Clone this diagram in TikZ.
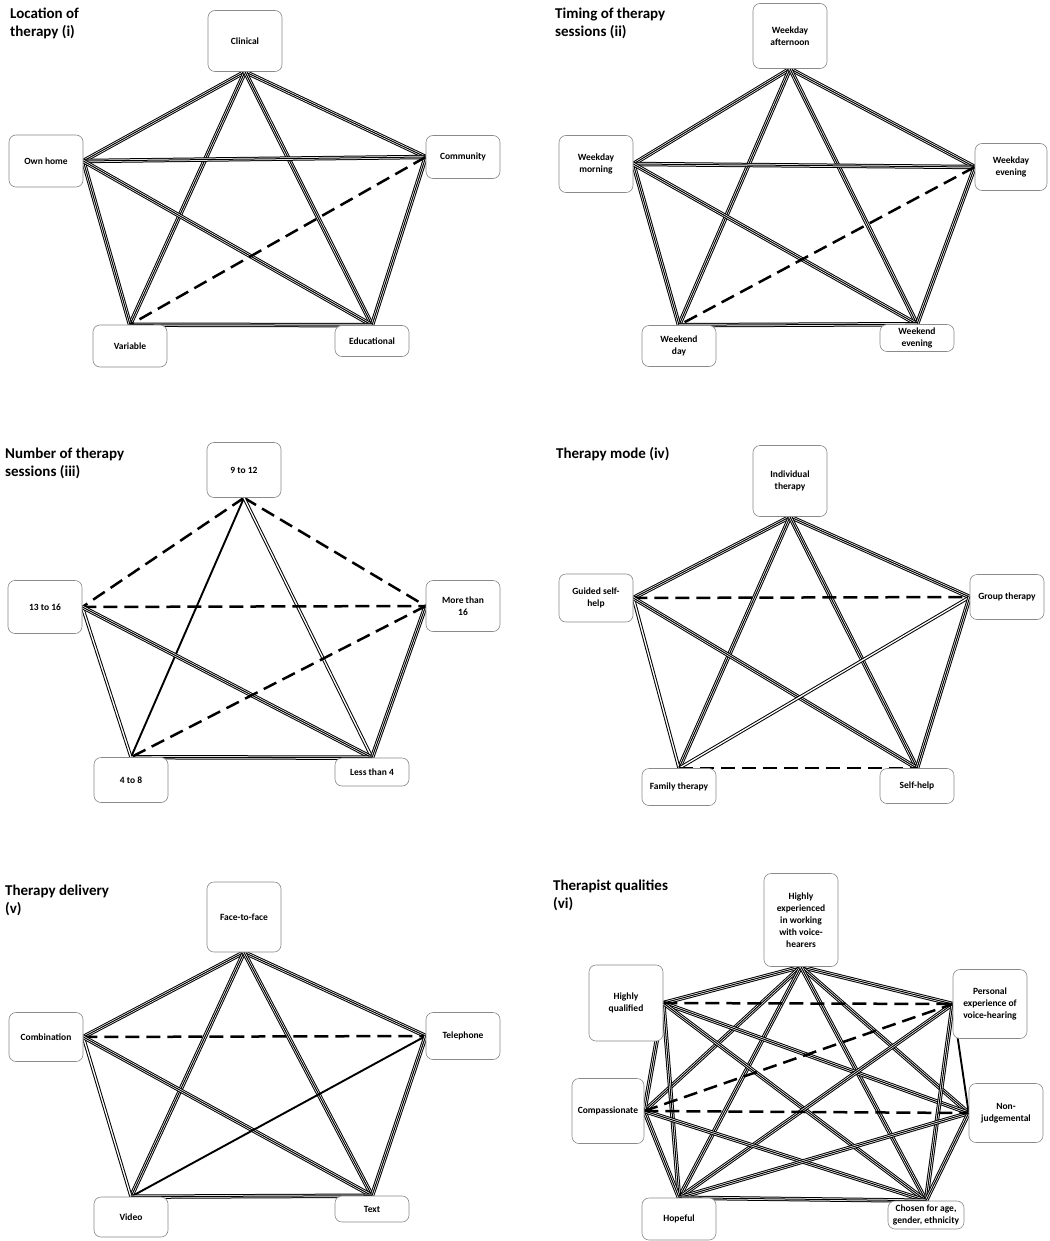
\documentclass[tikz,border=0pt]{standalone}
\usepackage{fontspec}
\setmainfont{Carlito}
\usetikzlibrary{positioning}
\definecolor{cbedge}{HTML}{000000}
\definecolor{cbframe}{HTML}{8A8A8A}
\definecolor{cbpaper}{HTML}{FFFFFF}
\pgfdeclarelayer{edges}
\pgfsetlayers{edges,main}
\tikzset{
  hdr/.style={font=\fontsize{15}{18}\selectfont\bfseries, align=left,
              anchor=north west, inner sep=0pt},
  choice/.style={rectangle, rounded corners=7pt, draw=cbframe, line width=0.6pt,
              fill=cbpaper, font=\fontsize{9.5}{12}\selectfont\bfseries,
              align=center, inner sep=1pt, minimum width=74pt},
  tri/.style={draw=cbedge, line width=4.4pt,
              postaction={draw=cbpaper, line width=2.4pt},
              postaction={draw=cbedge, line width=1pt}},
  dbl/.style={draw=cbedge, line width=1pt, double=cbpaper, double distance=1.3pt},
  sgl/.style={draw=cbedge, line width=1.9pt},
  dsh/.style={draw=cbedge, line width=2.5pt, dash pattern=on 14pt off 7pt},
}
\begin{document}
\begin{tikzpicture}[x=1pt,y=-1pt]
  \useasboundingbox (0,0) rectangle (1049,1241);
  \begin{pgfonlayer}{edges}
    \fill[cbpaper] (0,0) rectangle (1049,1241);
  \end{pgfonlayer}
  % (i) location
  \node[hdr] (ttlloc) at (10,7.5) {Location of\\therapy (i)};
  \node[choice, minimum height=61pt] (clinical)    at (245,41)  {Clinical};
  \node[choice, minimum height=52pt] (ownhome)     at (46,161)  {Own home};
  \node[choice, minimum height=43pt] (community)   at (463,157) {Community};
  \node[choice, minimum height=42pt] (variable)    at (130,346) {Variable};
  \node[choice, minimum height=31pt] (educational) at (372,341) {Educational};
  % (ii) timing
  \node[hdr] (ttltime) at (555,7.5) {Timing of therapy\\sessions (ii)};
  \node[choice, minimum height=65pt] (wdaft)  at (790,36)  {Weekday\\afternoon};
  \node[choice, minimum height=57pt] (wdmorn) at (596,164) {Weekday\\morning};
  \node[choice, minimum height=47pt, minimum width=72pt] (wdeve) at (1011,167) {Weekday\\evening};
  \node[choice, minimum height=41pt] (wkday)  at (679,346) {Weekend\\day};
  \node[choice, minimum height=27pt, inner sep=0pt] (wkeve) at (917,338) {Weekend\\evening};
  % (iii) number
  \node[hdr] (ttlnum) at (5,447.5) {Number of therapy\\sessions (iii)};
  \node[choice, minimum height=55pt] (n9to12)  at (244,470) {9 to 12};
  \node[choice, minimum height=53pt] (n13to16) at (45,607)  {13 to 16};
  \node[choice, minimum height=51pt] (more16)  at (463,606) {More than\\16};
  \node[choice, minimum height=45pt] (n4to8)   at (131,780) {4 to 8};
  \node[choice, minimum height=28pt] (less4)   at (372,772) {Less than 4};
  % (iv) mode
  \node[hdr] (ttlmode) at (556,447.5) {Therapy mode (iv)};
  \node[choice, minimum height=71pt] (indiv)    at (790,481) {Individual\\therapy};
  \node[choice, minimum height=48pt] (guided)   at (596,598) {Guided self-\\help};
  \node[choice, minimum height=45pt] (group)    at (1007,597) {Group therapy};
  \node[choice, minimum height=37pt] (family)   at (679,787) {Family therapy};
  \node[choice, minimum height=35pt] (selfhelp) at (917,786) {Self-help};
  % (v) delivery
  \node[hdr] (ttldeliv) at (5,884.5) {Therapy delivery\\(v)};
  \node[choice, minimum height=70pt] (face)  at (244,917)  {Face-to-face};
  \node[choice, minimum height=49pt] (combi) at (46,1037)  {Combination};
  \node[choice, minimum height=47pt] (phone) at (463,1036) {Telephone};
  \node[choice, minimum height=40pt] (video) at (131,1217) {Video};
  \node[choice, minimum height=26pt] (textd) at (372,1209) {Text};
  % (vi) qualities
  \node[hdr] (ttlqual) at (553,879.5) {Therapist qualities\\(vi)};
  \node[choice, minimum height=93pt] (experienced) at (801,920)
       {Highly\\experienced\\in working\\with voice-\\hearers};
  \node[choice, minimum height=76pt] (qualified) at (626,1003) {Highly\\qualified};
  \node[choice, minimum height=69pt] (personal)  at (990,1004) {Personal\\experience of\\voice-hearing};
  \node[choice, minimum height=65pt, minimum width=72pt] (compass) at (608,1111) {Compassionate};
  \node[choice, minimum height=59pt] (nonjudge)  at (1006,1113) {Non-\\judgemental};
  \node[choice, minimum height=42pt] (hopeful)   at (679,1219) {Hopeful};
  \node[choice, minimum height=28pt, minimum width=76pt, inner sep=0pt] (chosen) at (926,1215)
       {Chosen for age,\\gender, ethnicity};
  \begin{pgfonlayer}{edges}
    \draw[tri] (clinical.south) -- (ownhome.east);
    \draw[tri] (clinical.south) -- (community.west);
    \draw[tri] (clinical.south) -- (variable.north);
    \draw[tri] (clinical.south) -- (educational.north);
    \draw[tri] (ownhome.east) -- (community.west);
    \draw[tri] (ownhome.east) -- (variable.north);
    \draw[tri] (ownhome.east) -- (educational.north);
    \draw[tri] (community.west) -- (educational.north);
    \draw[tri] (variable.north) -- (educational.north);
    \draw[dsh] (community.west) -- (variable.north);
    \draw[tri] (wdaft.south) -- (wdmorn.east);
    \draw[tri] (wdaft.south) -- (wdeve.west);
    \draw[tri] (wdaft.south) -- (wkday.north);
    \draw[tri] (wdaft.south) -- (wkeve.north);
    \draw[tri] (wdmorn.east) -- (wdeve.west);
    \draw[tri] (wdmorn.east) -- (wkday.north);
    \draw[tri] (wdmorn.east) -- (wkeve.north);
    \draw[tri] (wdeve.west) -- (wkeve.north);
    \draw[tri] (wkday.north) -- (wkeve.north);
    \draw[dsh] (wdeve.west) -- (wkday.north);
    \draw[dsh] (n9to12.south) -- (n13to16.east);
    \draw[dsh] (n9to12.south) -- (more16.west);
    \draw[sgl] (n9to12.south) -- (n4to8.north);
    \draw[dbl] (n9to12.south) -- (less4.north);
    \draw[dsh] (n13to16.east) -- (more16.west);
    \draw[dbl] (n13to16.east) -- (n4to8.north);
    \draw[tri] (n13to16.east) -- (less4.north);
    \draw[tri] (more16.west) -- (less4.north);
    \draw[tri] (n4to8.north) -- (less4.north);
    \draw[dsh] (more16.west) -- (n4to8.north);
    \draw[tri] (indiv.south) -- (guided.east);
    \draw[tri] (indiv.south) -- (group.west);
    \draw[tri] (indiv.south) -- (family.north);
    \draw[tri] (indiv.south) -- (selfhelp.north);
    \draw[dsh] (guided.east) -- (group.west);
    \draw[dbl] (guided.east) -- (family.north);
    \draw[tri] (guided.east) -- (selfhelp.north);
    \draw[dbl] (group.west) -- (family.north);
    \draw[tri] (group.west) -- (selfhelp.north);
    \draw[dsh] (family.north) -- (selfhelp.north);
    \draw[tri] (face.south) -- (combi.east);
    \draw[tri] (face.south) -- (phone.west);
    \draw[tri] (face.south) -- (video.north);
    \draw[tri] (face.south) -- (textd.north);
    \draw[dsh] (combi.east) -- (phone.west);
    \draw[dbl] (combi.east) -- (video.north);
    \draw[tri] (combi.east) -- (textd.north);
    \draw[sgl] (phone.west) -- (video.north);
    \draw[tri] (phone.west) -- (textd.north);
    \draw[tri] (video.north) -- (textd.north);
    \draw[tri] (experienced.south) -- (qualified.east);
    \draw[tri] (experienced.south) -- (personal.west);
    \draw[tri] (experienced.south) -- (compass.east);
    \draw[tri] (experienced.south) -- (nonjudge.west);
    \draw[tri] (experienced.south) -- (hopeful.north);
    \draw[tri] (experienced.south) -- (chosen.north);
    \draw[tri] (qualified.east) -- (compass.east);
    \draw[tri] (qualified.east) -- (nonjudge.west);
    \draw[tri] (qualified.east) -- (hopeful.north);
    \draw[tri] (qualified.east) -- (chosen.north);
    \draw[tri] (personal.west) -- (hopeful.north);
    \draw[tri] (personal.west) -- (chosen.north);
    \draw[sgl] (personal.west) -- (nonjudge.west);
    \draw[tri] (compass.east) -- (hopeful.north);
    \draw[tri] (compass.east) -- (chosen.north);
    \draw[tri] (nonjudge.west) -- (hopeful.north);
    \draw[tri] (nonjudge.west) -- (chosen.north);
    \draw[tri] (hopeful.north) -- (chosen.north);
    \draw[dsh] (qualified.east) -- (personal.west);
    \draw[dsh] (compass.east) -- (personal.west);
    \draw[dsh] (compass.east) -- (nonjudge.west);
  \end{pgfonlayer}
\end{tikzpicture}
\end{document}
